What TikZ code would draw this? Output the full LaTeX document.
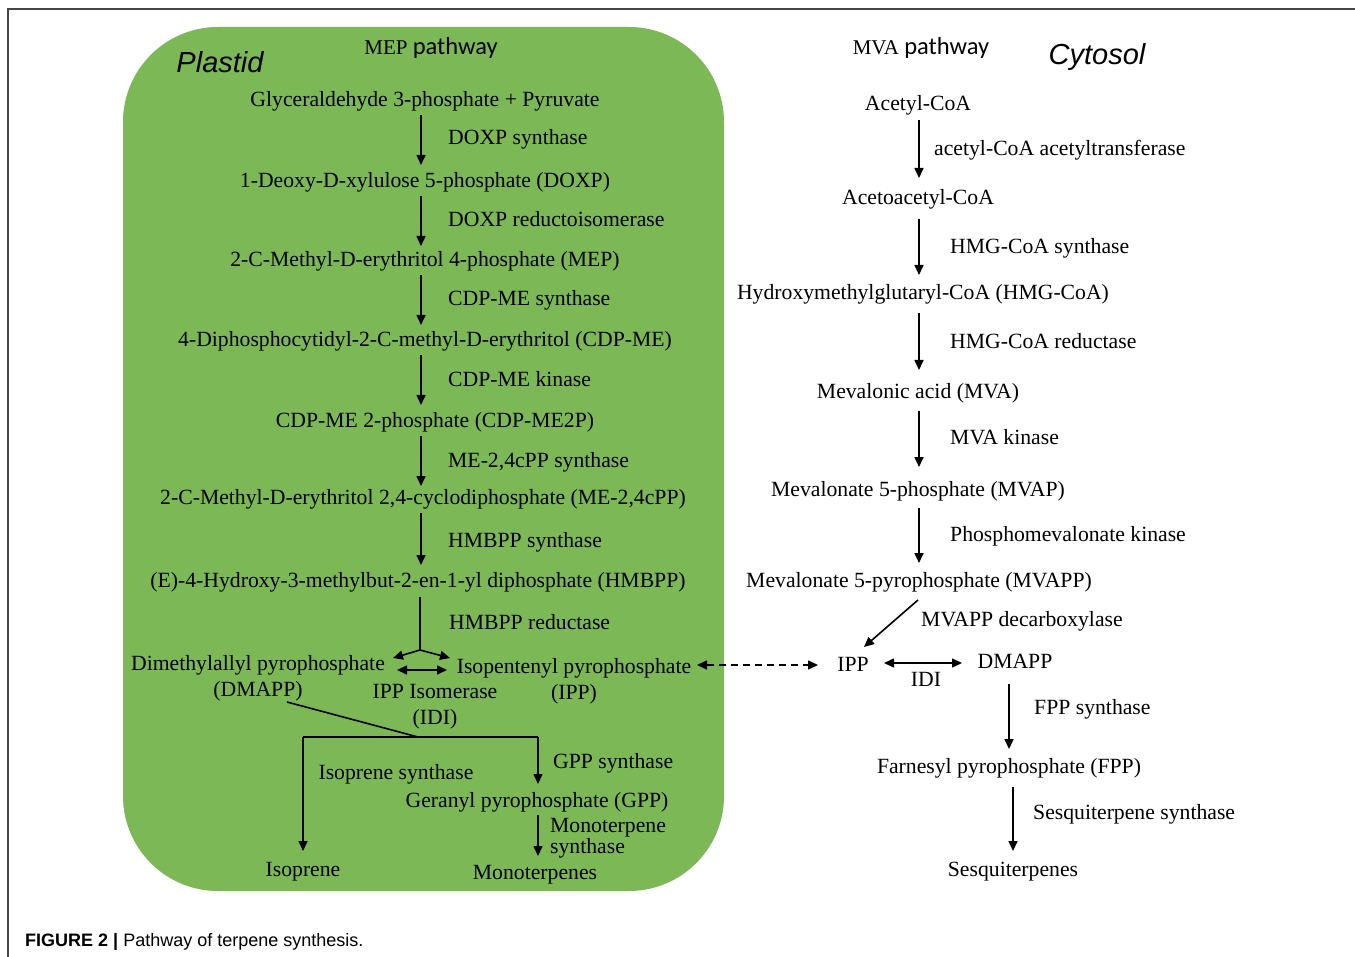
\documentclass[tikz,border=0pt]{standalone}
\usepackage{fontspec}
\setmainfont{Liberation Serif}
\newfontfamily\sansf{Liberation Sans}
\newfontfamily\calib{Carlito}
\usetikzlibrary{arrows.meta}
\definecolor{plastidgreen}{RGB}{124,184,86}
\definecolor{framegray}{RGB}{70,70,70}
\tikzset{
  lbl/.style={inner sep=0pt, font=\fontsize{21.7}{24}\selectfont, text height=14pt, text depth=4.5pt, yshift=-3pt},
  lblm/.style={inner sep=0pt, font=\fontsize{21.7}{26}\selectfont, align=center, yshift=-3pt},
  enz/.style={lbl, anchor=west},
  region/.style={inner sep=0pt, font=\sansf\itshape\fontsize{29}{32}\selectfont},
  arr/.style={line width=1.6pt, -{Triangle[length=10pt,width=9pt]}},
  darr/.style={line width=1.6pt, {Triangle[length=10pt,width=9pt]}-{Triangle[length=10pt,width=9pt]}},
  plain/.style={line width=1.6pt},
}
\begin{document}
\begin{tikzpicture}[x=1pt,y=-1pt]
\useasboundingbox (0,0) rectangle (1355,957);
\fill[white] (0,0) rectangle (1355,957);
% frame
\draw[framegray, line width=1.4pt] (8,957) -- (8,9) -- (1355,9);
% plastid compartment
\fill[plastidgreen, rounded corners=95pt] (123,27) rectangle (724,891);

% ---------- MEP pathway ----------
\node[inner sep=0pt, yshift=-1pt] (meptitle) at (431,47) {\fontsize{21}{24}\selectfont MEP {\calib\fontsize{24.5}{26}\selectfont pathway}};
\node[region] (plastid) at (220,62) {Plastid};
\node[lbl] (g3p) at (425,99) {Glyceraldehyde 3-phosphate + Pyruvate};
\node[lbl] (doxp) at (425,180) {1-Deoxy-D-xylulose 5-phosphate (DOXP)};
\node[lbl] (mep) at (425,259) {2-C-Methyl-D-erythritol 4-phosphate (MEP)};
\node[lbl] (cdpme) at (425,339) {4-Diphosphocytidyl-2-C-methyl-D-erythritol (CDP-ME)};
\node[lbl] (cdpme2p) at (435,420) {CDP-ME 2-phosphate (CDP-ME2P)};
\node[lbl] (mecpp) at (423,497) {2-C-Methyl-D-erythritol 2,4-cyclodiphosphate (ME-2,4cPP)};
\node[lbl] (hmbpp) at (418,580) {(E)-4-Hydroxy-3-methylbut-2-en-1-yl diphosphate (HMBPP)};

\node[enz] (e1) at (448,137) {DOXP synthase};
\node[enz] (e2) at (448,219) {DOXP reductoisomerase};
\node[enz] (e3) at (448,298) {CDP-ME synthase};
\node[enz] (e4) at (448,379) {CDP-ME kinase};
\node[enz] (e5) at (448,460) {ME-2,4cPP synthase};
\node[enz] (e6) at (448,540) {HMBPP synthase};
\node[enz] (e7) at (449,622) {HMBPP reductase};

\coordinate (a1s) at (421,115); \coordinate (a1e) at (421,165);
\coordinate (a2s) at (421,196); \coordinate (a2e) at (421,246);
\coordinate (a3s) at (421,275); \coordinate (a3e) at (421,325);
\coordinate (a4s) at (421,355); \coordinate (a4e) at (421,405);
\coordinate (a5s) at (421,436); \coordinate (a5e) at (421,486);
\coordinate (a6s) at (421,513); \coordinate (a6e) at (421,565);
\draw[arr] (a1s) -- (a1e);
\draw[arr] (a2s) -- (a2e);
\draw[arr] (a3s) -- (a3e);
\draw[arr] (a4s) -- (a4e);
\draw[arr] (a5s) -- (a5e);
\draw[arr] (a6s) -- (a6e);

\node[lblm] (dmappL) at (258,675) {Dimethylallyl pyrophosphate\\(DMAPP)};
\node[lblm] (ippL) at (574,678) {Isopentenyl pyrophosphate\\(IPP)};
\node[lblm] (idiL) at (435,704) {IPP Isomerase\\(IDI)};

\coordinate (hbs) at (420,597);
\coordinate (hbb) at (420,650);
\coordinate (hbl) at (393,658);
\coordinate (hbr) at (450,658);
\draw[plain] (hbs) -- (hbb);
\draw[arr] (hbb) -- (hbl);
\draw[arr] (hbb) -- (hbr);
\coordinate (isoL) at (397,670); \coordinate (isoR) at (447,670);
\draw[darr] (isoL) -- (isoR);

\coordinate (dmline) at (287,702);
\coordinate (junc) at (418,737);
\coordinate (jl) at (303,737);
\coordinate (jr) at (538,737);
\coordinate (isoend) at (303,851);
\coordinate (gppend) at (538,784);
\draw[plain] (dmline) -- (junc);
\draw[plain] (jl) -- (jr);
\draw[arr] (jl) -- (isoend);
\draw[arr] (jr) -- (gppend);

\node[lbl] (isosyn) at (396,772) {Isoprene synthase};
\node[enz] (gppsyn) at (553,761) {GPP synthase};
\node[lbl] (gpp) at (537,800) {Geranyl pyrophosphate (GPP)};
\coordinate (m1s) at (538,815); \coordinate (m1e) at (538,856);
\draw[arr] (m1s) -- (m1e);
\node[inner sep=0pt, font=\fontsize{21.7}{19.5}\selectfont, align=left, anchor=west] (monosyn) at (550,838) {Monoterpene\\synthase};
\node[lbl] (isoprene) at (303,869) {Isoprene};
\node[lbl] (mono) at (535,872) {Monoterpenes};

% exchange
\coordinate (exL) at (697,665); \coordinate (exR) at (818,665);
\draw[line width=1.6pt, dash pattern=on 7pt off 5pt, {Triangle[length=10pt,width=9pt]}-{Triangle[length=10pt,width=9pt]}] (exL) -- (exR);

% ---------- MVA pathway ----------
\node[inner sep=0pt, yshift=-1pt] (mvatitle) at (921,47) {\fontsize{21}{24}\selectfont MVA {\calib\fontsize{24.5}{26}\selectfont pathway}};
\node[region] (cytosol) at (1097,57) {Cytosol};
\node[lbl] (acetyl) at (918,103) {Acetyl-CoA};
\node[lbl] (acetoacetyl) at (918,197) {Acetoacetyl-CoA};
\node[lbl] (hmgcoa) at (923,292) {Hydroxymethylglutaryl-CoA (HMG-CoA)};
\node[lbl] (mva) at (918,391) {Mevalonic acid (MVA)};
\node[lbl] (mvap) at (918,489) {Mevalonate 5-phosphate (MVAP)};
\node[lbl] (mvapp) at (919,580) {Mevalonate 5-pyrophosphate (MVAPP)};
\node[lbl] (ippR) at (853,664) {IPP};
\node[lbl] (dmappR) at (1015,661) {DMAPP};
\node[lbl] (idiR) at (926,679) {IDI};
\node[lbl] (fpp) at (1009,766) {Farnesyl pyrophosphate (FPP)};
\node[lbl] (sesq) at (1013,869) {Sesquiterpenes};

\node[enz] (r1) at (934,148) {acetyl-CoA acetyltransferase};
\node[enz] (r2) at (950,246) {HMG-CoA synthase};
\node[enz] (r3) at (950,341) {HMG-CoA reductase};
\node[enz] (r4) at (950,437) {MVA kinase};
\node[enz] (r5) at (950,534) {Phosphomevalonate kinase};
\node[enz] (r6) at (921,619) {MVAPP decarboxylase};
\node[enz] (r7) at (1034,707) {FPP synthase};
\node[enz] (r8) at (1033,812) {Sesquiterpene synthase};

\coordinate (b1s) at (919,120); \coordinate (b1e) at (919,178);
\coordinate (b2s) at (919,219); \coordinate (b2e) at (919,275);
\coordinate (b3s) at (919,313); \coordinate (b3e) at (919,370);
\coordinate (b4s) at (919,411); \coordinate (b4e) at (919,467);
\coordinate (b5s) at (919,508); \coordinate (b5e) at (919,563);
\coordinate (b6s) at (918,600); \coordinate (b6e) at (864,647);
\coordinate (b7s) at (1009,684); \coordinate (b7e) at (1009,749);
\coordinate (b8s) at (1013,787); \coordinate (b8e) at (1013,851);
\coordinate (idiRl) at (884,663); \coordinate (idiRr) at (962,663);
\draw[arr] (b1s) -- (b1e);
\draw[arr] (b2s) -- (b2e);
\draw[arr] (b3s) -- (b3e);
\draw[arr] (b4s) -- (b4e);
\draw[arr] (b5s) -- (b5e);
\draw[arr] (b6s) -- (b6e);
\draw[arr] (b7s) -- (b7e);
\draw[arr] (b8s) -- (b8e);
\draw[darr] (idiRl) -- (idiRr);

% caption
\node[inner sep=0pt, anchor=west, font=\sansf\fontsize{18}{20}\selectfont] (caption) at (25,942) {{\bfseries FIGURE 2 |} Pathway of terpene synthesis.};
\end{tikzpicture}
\end{document}
